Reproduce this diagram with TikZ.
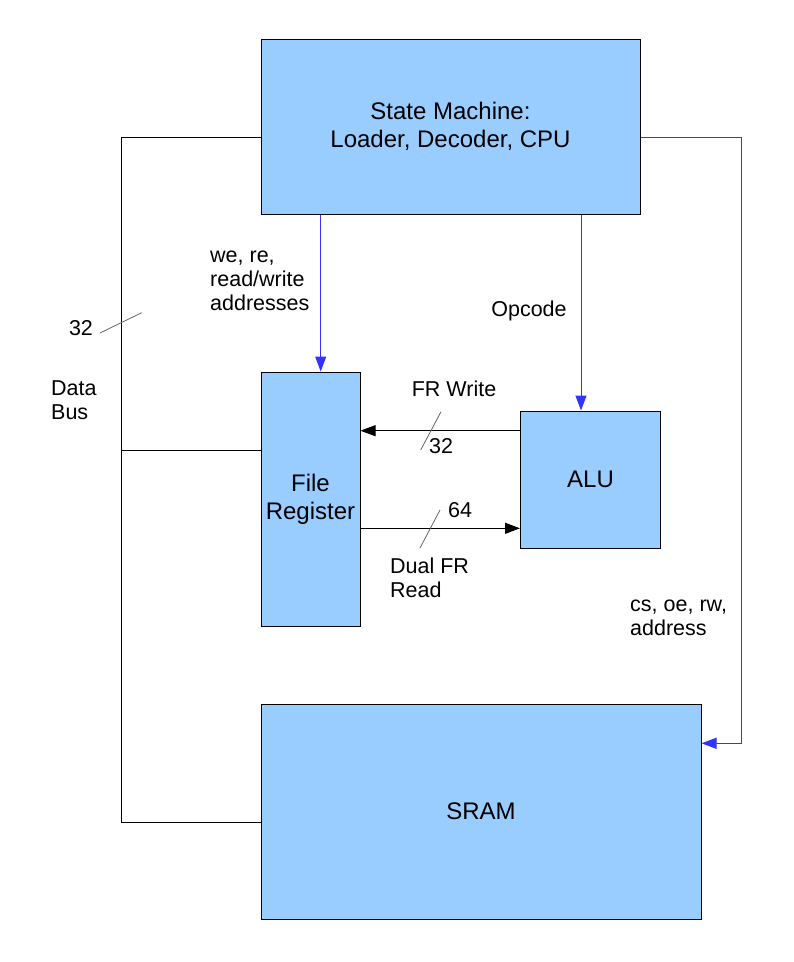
\documentclass[tikz,border=0pt]{standalone}
\usepackage{fontspec}
\setmainfont{Liberation Sans}
\usetikzlibrary{arrows.meta}
\definecolor{boxblue}{HTML}{99CCFF}
\definecolor{linkblue}{HTML}{3333FF}
\definecolor{slashgray}{HTML}{666666}
\newcommand\boxfont{\fontsize{24}{28}\selectfont}
\newcommand\lblfont{\fontsize{21.5}{24}\selectfont}
\begin{document}
\begin{tikzpicture}[x=1pt,y=-1pt]
\tikzset{
 blk/.style={draw=black, fill=boxblue, line width=1pt, inner sep=0pt, align=center, font=\boxfont},
 lbl/.style={inner sep=0pt, align=left, font=\lblfont},
 bus/.style={draw=black, line width=1pt},
 ctl/.style={draw=linkblue, line width=1pt},
 tip/.style={-{Triangle[length=15pt,width=11pt]}},
 slash/.style={draw=slashgray, line width=0.8pt}
}
\path[use as bounding box, fill=white] (0,0) rectangle (794,962);

% blocks
\node[blk, minimum width=379, minimum height=175] (sm) at (450.5,126.5) {State Machine:\\Loader, Decoder, CPU};
\node[blk, minimum width=99, minimum height=254] (fr) at (310.5,499) {File\\Register};
\node[blk, minimum width=140, minimum height=137] (alu) at (590.5,479.5) {ALU};
\node[blk, minimum width=440, minimum height=215] (sram) at (481,811.5) {SRAM};

% data bus
\coordinate (bustop) at (121,137);
\coordinate (busfr) at (121,450.5);
\coordinate (busbot) at (121,822);
\draw[bus] (sm.west |- bustop) -- (bustop) -- (busbot) -- (sram.west |- busbot);
\draw[bus] (busfr) -- (fr.west |- busfr);

% control lines
\draw[ctl, tip] (sm.south -| 320.7,0) -- (fr.north -| 320.7,0);
\draw[ctl, tip] (sm.south -| 581,0) -- (alu.north -| 581,0);
\coordinate (rtop) at (741,137.3);
\coordinate (rbot) at (741,743.3);
\draw[ctl, tip] (sm.east |- rtop) -- (rtop) -- (rbot) -- (sram.east |- rbot);

% FR <-> ALU
\draw[bus, tip] (alu.west |- 0,430.7) -- (fr.east |- 0,430.7);
\draw[bus, tip] (fr.east |- 0,528.3) -- (alu.west |- 0,528.3);

% bus width slashes
\draw[slash] (441,411.7) -- (420.7,450);
\draw[slash] (440,510) -- (420,548);
\draw[slash] (100,333) -- (141.7,312.7);

% labels (base anchor = baseline of last line)
\node[lbl, anchor=base west] (lwe) at (210,310) {we, re,\\read/write\\addresses};
\node[lbl] (lop) at (529,311) {Opcode};
\node[lbl] (lfrw) at (454,389) {FR Write};
\node[lbl] (l32a) at (441,446) {32};
\node[lbl] (l64) at (460,510) {64};
\node[lbl, anchor=base west] (ldual) at (390,597) {Dual FR\\Read};
\node[lbl, anchor=base west] (lcs) at (630,635) {cs, oe, rw,\\address};
\node[lbl] (l32b) at (81,328) {32};
\node[lbl, anchor=base west] (ldata) at (51,419) {Data\\Bus};
\end{tikzpicture}
\end{document}
